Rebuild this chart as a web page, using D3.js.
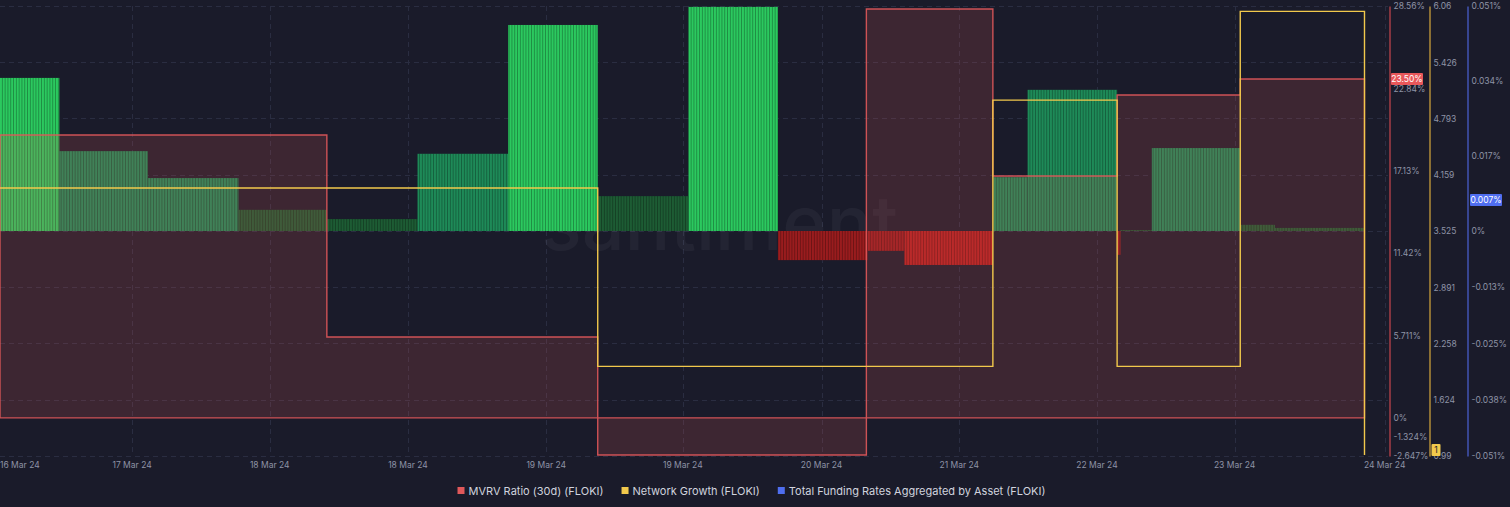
<!DOCTYPE html>
<html>
<head>
<meta charset="utf-8">
<script src="https://cdn.jsdelivr.net/npm/d3@7"></script>
<style>
  html, body { margin: 0; padding: 0; background: #1a1b2a; }
  svg { display: block; font-family: Inter, "Noto Sans", sans-serif; }
</style>
</head>
<body>
<svg id="chart" width="1510" height="507"></svg>
<script>
// ---------------- DATA ----------------
// time unit: hours from the start of the visible window
const xTickT = [0, 11.8, 24.1, 36.45, 48.8, 61.0, 73.4, 85.7, 98.0, 110.3, 123.7];
const xTickLabels = ["16 Mar 24", "17 Mar 24", "18 Mar 24", "18 Mar 24", "19 Mar 24", "19 Mar 24",
                     "20 Mar 24", "21 Mar 24", "22 Mar 24", "23 Mar 24", "24 Mar 24"];

// MVRV Ratio (30d), % — step series
const mvrvT = [0, 29.2, 53.4, 77.4, 88.7, 99.8, 110.8];
const mvrvV = [19.61, 5.61, -2.58, 28.35, 16.77, 22.39, 23.50];
const seriesEndT = 121.9;

// Network Growth — step series
const ngT = [0, 53.4, 88.7, 99.8, 110.8, 121.9];
const ngV = [4.01, 2.00, 5.00, 2.00, 6.00, 1.00];

// Total Funding Rates Aggregated by Asset, % — per funding block
const frT = [0, 5.3, 13.2, 21.3, 29.2, 37.3, 45.4, 53.4, 61.5, 69.5, 77.5, 80.8, 88.7, 91.8, 99.8, 100.1, 102.9, 110.8, 113.9];
const frV = [0.0347, 0.0181, 0.0120, 0.0048, 0.0027, 0.0175, 0.0467, 0.0079, 0.0508, -0.0066, -0.0045, -0.0077,
             0.0122, 0.0320, -0.0054, 0.0002, 0.0188, 0.0014, 0.0007];
const frCurrent = 0.007;

// axis ticks
const redTicks = [28.56, 22.84, 17.13, 11.42, 5.711, 0, -1.324, -2.647];
const redTickLabels = ["28.56%", "22.84%", "17.13%", "11.42%", "5.711%", "0%", "-1.324%", "-2.647%"];
const ngTicks = [6.06, 5.426, 4.793, 4.159, 3.525, 2.891, 2.258, 1.624, 0.99];
const ngTickLabels = ["6.06", "5.426", "4.793", "4.159", "3.525", "2.891", "2.258", "1.624", "0.99"];
const frTicks = [0.051, 0.034, 0.017, 0, -0.01275, -0.0255, -0.03825, -0.051];
const frTickLabels = ["0.051%", "0.034%", "0.017%", "0%", "-0.013%", "-0.025%", "-0.038%", "-0.051%"];

const legendItems = ["MVRV Ratio (30d) (FLOKI)", "Network Growth (FLOKI)", "Total Funding Rates Aggregated by Asset (FLOKI)"];

// ---------------- LAYOUT / STYLE ----------------
const P = { left: 0, right: 1388, top: 6, bottom: 456 };
const C = {
  bg: "#1a1b2a", grid: "#2a2d41", tick: "#8e93a6",
  red: "#e0585a", redAxis: "#c9474d", yellow: "#f2c94c", yellowAxis: "#d8a93c",
  blue: "#4f6ef0", blueAxis: "#4c63d6"
};

const svg = d3.select("#chart");
svg.append("rect").attr("width", 1510).attr("height", 507).attr("fill", C.bg);

const defs = svg.append("defs");
defs.append("clipPath").attr("id", "plotClip").append("rect")
  .attr("x", P.left).attr("y", P.top - 2).attr("width", P.right - P.left).attr("height", P.bottom - P.top + 4);
const pat = defs.append("pattern").attr("id", "stripes").attr("patternUnits", "userSpaceOnUse")
  .attr("width", 2.8).attr("height", 10);
pat.append("rect").attr("x", 2.0).attr("y", 0).attr("width", 0.8).attr("height", 10).attr("fill", "rgba(0,0,0,0.35)");

// scales
const x = d3.scaleLinear().domain([0, 124]).range([P.left, P.right]);
const yRed = d3.scaleLinear().domain([-2.647, 28.56]).range([P.bottom, P.top]);
const yNG = d3.scaleLinear().domain([0.99, 6.06]).range([P.bottom, P.top]);
const yFR = d3.scaleLinear().domain([-0.051, 0.051]).range([P.bottom, P.top]);

const greenColor = d3.scaleThreshold().domain([0.01, 0.0335]).range(["#1d5c34", "#1e8a58", "#2bc95f"]);
const redColor = d3.scaleThreshold().domain([-0.007]).range(["#b32020", "#9a1c1e"]);

// grid
const gridG = svg.append("g");
gridG.selectAll("line.h").data(ngTicks).join("line")
  .attr("x1", P.left).attr("x2", P.right)
  .attr("y1", d => Math.round(yNG(d)) + 0.5).attr("y2", d => Math.round(yNG(d)) + 0.5)
  .attr("stroke", C.grid).attr("stroke-dasharray", "5,4");
gridG.selectAll("line.v").data(xTickT.slice(1)).join("line")
  .attr("y1", P.top).attr("y2", P.bottom)
  .attr("x1", d => Math.round(x(d)) + 0.5).attr("x2", d => Math.round(x(d)) + 0.5)
  .attr("stroke", C.grid).attr("stroke-dasharray", "5,4");

// watermark
svg.append("text").attr("x", 541).attr("y", 250)
  .attr("font-size", 76).attr("font-weight", 500)
  .attr("textLength", 380).attr("lengthAdjust", "spacingAndGlyphs")
  .attr("fill", "#ffffff").attr("fill-opacity", 0.045)
  .text("santiment.");

const plotG = svg.append("g").attr("clip-path", "url(#plotClip)");

// funding bars
const blocks = frV.map((v, i) => ({ t0: frT[i], t1: i + 1 < frT.length ? frT[i + 1] : seriesEndT, v }));
const barG = plotG.append("g");
barG.selectAll("rect.bar").data(blocks).join("rect").attr("class", "bar")
  .attr("x", d => x(d.t0)).attr("width", d => x(d.t1) - x(d.t0))
  .attr("y", d => Math.min(yFR(d.v), yFR(0)))
  .attr("height", d => Math.abs(yFR(d.v) - yFR(0)))
  .attr("fill", d => d.v >= 0 ? greenColor(d.v) : redColor(d.v));
barG.selectAll("rect.str").data(blocks).join("rect").attr("class", "str")
  .attr("x", d => x(d.t0)).attr("width", d => x(d.t1) - x(d.t0))
  .attr("y", d => Math.min(yFR(d.v), yFR(0)))
  .attr("height", d => Math.abs(yFR(d.v) - yFR(0)))
  .attr("fill", "url(#stripes)");

// MVRV area
const mvrvPts = mvrvT.map((t, i) => ({ t, v: mvrvV[i] }));
mvrvPts.push({ t: seriesEndT, v: mvrvV[mvrvV.length - 1] });
const area = d3.area().curve(d3.curveStepAfter)
  .x(d => x(d.t)).y0(yRed(0)).y1(d => yRed(d.v));
plotG.append("path").datum(mvrvPts).attr("d", area)
  .attr("fill", C.red).attr("fill-opacity", 0.18)
  .attr("stroke", C.red).attr("stroke-width", 1.4).attr("stroke-opacity", 0.9);

// Network growth line
const ngPts = ngT.map((t, i) => ({ t, v: ngV[i] }));
const line = d3.line().curve(d3.curveStepAfter).x(d => x(d.t)).y(d => yNG(d.v));
plotG.append("path").datum(ngPts).attr("d", line)
  .attr("fill", "none").attr("stroke", C.yellow).attr("stroke-width", 1.4);

// x-axis labels
svg.append("g").selectAll("text").data(xTickT).join("text")
  .attr("x", d => x(d)).attr("y", 468)
  .attr("text-anchor", (d, i) => i === 0 ? "start" : "middle")
  .attr("font-size", 8.5).attr("fill", C.tick)
  .text((d, i) => xTickLabels[i]);

// right axes
function rightAxis(scale, xPos, ticks, labels, color) {
  const g = svg.append("g").attr("transform", `translate(${xPos},0)`)
    .call(d3.axisRight(scale).tickValues(ticks).tickFormat((d, i) => labels[i]).tickSize(0).tickPadding(4));
  g.select(".domain").attr("stroke", color).attr("stroke-width", 1.2);
  g.selectAll("text").attr("fill", C.tick).attr("font-size", 8.5).attr("font-family", "Inter, 'Noto Sans', sans-serif");
  return g;
}
rightAxis(yRed, 1389.5, redTicks, redTickLabels, C.redAxis);
rightAxis(yNG, 1429.5, ngTicks, ngTickLabels, C.yellowAxis);
rightAxis(yFR, 1467.5, frTicks, frTickLabels, C.blueAxis);

// current value markers
function marker(xPos, yPos, w, text, fill, textColor) {
  const g = svg.append("g");
  g.append("rect").attr("x", xPos).attr("y", yPos - 6).attr("width", w).attr("height", 12)
    .attr("rx", 1).attr("fill", fill);
  g.append("text").attr("x", xPos + w / 2).attr("y", yPos).attr("dy", "0.35em")
    .attr("text-anchor", "middle").attr("font-size", 8.5).attr("fill", textColor).text(text);
}
marker(1391, yRed(mvrvV[mvrvV.length - 1]), 32, d3.format(".2f")(mvrvV[mvrvV.length - 1]) + "%", "#e8575a", "#ffffff");
marker(1470, yFR(frCurrent), 32, frCurrent + "%", C.blue, "#ffffff");
marker(1431.5, Math.min(yNG(ngV[ngV.length - 1]), 450), 9, String(ngV[ngV.length - 1]), "#f2c94c", "#1a1b2a");

// legend
const legColors = [C.red, C.yellow, C.blue];
const leg = svg.append("g");
let lx = 0;
legendItems.forEach((name, i) => {
  const g = leg.append("g").attr("transform", `translate(${lx},0)`);
  g.append("rect").attr("x", 0).attr("y", -4).attr("width", 7).attr("height", 7).attr("fill", legColors[i]);
  const t = g.append("text").attr("x", 11).attr("y", 0).attr("dy", "0.35em")
    .attr("font-size", 11).attr("fill", "#d0d3de").text(name);
  lx += 11 + t.node().getComputedTextLength() + 18;
});
const legW = lx - 18;
leg.attr("transform", `translate(${(466 + 1037) / 2 - legW / 2},491)`);
</script>
</body>
</html>
